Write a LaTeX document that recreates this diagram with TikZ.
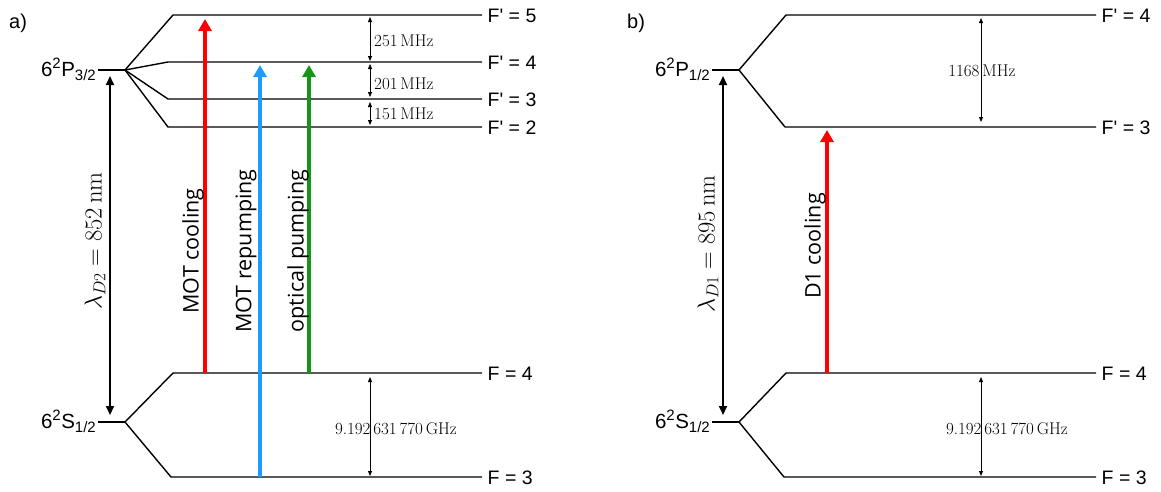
\RequirePackage{fix-cm}
\documentclass[tikz,border=0pt]{standalone}
\usepackage{fontspec}
\newfontfamily\levelfont{Liberation Sans}
\newfontfamily\beamfont{Open Sans}
\usetikzlibrary{arrows.meta,positioning}
\definecolor{cred}{HTML}{FF0000}
\definecolor{cblue}{HTML}{1E9BFF}
\definecolor{cgreen}{HTML}{159615}

% term symbol n^2 L_J
\newcommand{\term}[4]{#1\raisebox{7.5pt}{\fontsize{15}{15}\selectfont #2}\kern0.5pt#3\raisebox{-4.5pt}{\fontsize{15}{15}\selectfont #4}}

\tikzset{
 elevel/.style={line width=1.4pt},
 lvl/.style={anchor=base west, inner sep=0pt, xshift=5pt, yshift=-7pt, font=\levelfont\fontsize{19.5}{22}\selectfont},
 statelab/.style={anchor=base east, inner sep=0pt, font=\levelfont\fontsize{20.5}{22}\selectfont},
 panel/.style={anchor=base west, inner sep=0pt, font=\levelfont\fontsize{20}{22}\selectfont},
 beam/.style={line width=3.7pt, -{Triangle[length=12pt,width=13pt]}},
 beamlab/.style={rotate=90, inner sep=0pt, font=\beamfont\fontsize{21.5}{24}\selectfont},
 trans/.style={line width=2pt, {Triangle[length=9pt,width=8pt]}-{Triangle[length=9pt,width=8pt]}},
 wavelab/.style={rotate=90, inner sep=0pt, font=\fontsize{24.5}{28}\selectfont},
 hf/.style={line width=0.8pt, {Triangle[length=5pt,width=4pt]}-{Triangle[length=5pt,width=4pt]}},
 hflab/.style={inner sep=0pt, font=\fontsize{17}{19}\selectfont},
}

\begin{document}
\begin{tikzpicture}[x=1pt,y=-1pt]
 \useasboundingbox (0,0) rectangle (1161,491);

 % a) D2 line
 \node[panel] (pa) at (9,28) {a)};
 \coordinate (aP) at (125,70);
 \coordinate (aS) at (125,422);
 \coordinate (aR) at (482,0);
 \coordinate (a5) at (173,15);
 \coordinate (a4) at (168,62);
 \coordinate (a3) at (168,99);
 \coordinate (a2) at (168,127);
 \coordinate (aF4) at (173,373);
 \coordinate (aF3) at (171,477);
 \node[statelab] (aPlab) at (96,76) {\term{6}{2}{P}{3/2}};
 \node[statelab] (aSlab) at (96,428) {\term{6}{2}{S}{1/2}};
 \draw[elevel] (aP) -- ++(-27,0);
 \draw[elevel] (aS) -- ++(-27,0);
 \draw[elevel] (aP) -- (a5) -- (a5 -| aR) node[lvl] (a5lab) {F\textquotesingle{} = 5};
 \draw[elevel] (aP) -- (a4) -- (a4 -| aR) node[lvl] (a4lab) {F\textquotesingle{} = 4};
 \draw[elevel] (aP) -- (a3) -- (a3 -| aR) node[lvl] (a3lab) {F\textquotesingle{} = 3};
 \draw[elevel] (aP) -- (a2) -- (a2 -| aR) node[lvl] (a2lab) {F\textquotesingle{} = 2};
 \draw[elevel] (aS) -- (aF4) -- (aF4 -| aR) node[lvl] (aF4lab) {F = 4};
 \draw[elevel] (aS) -- (aF3) -- (aF3 -| aR) node[lvl] (aF3lab) {F = 3};

 % hyperfine splittings
 \coordinate (aHF) at (370,0);
 \draw[hf] ([yshift=-2pt]a5 -| aHF) -- ([yshift=1pt]a4 -| aHF);
 \draw[hf] ([yshift=-2pt]a4 -| aHF) -- ([yshift=2pt]a3 -| aHF);
 \draw[hf] ([yshift=-3pt]a3 -| aHF) -- ([yshift=2pt]a2 -| aHF);
 \draw[hf] ([yshift=-4pt]aF4 -| aHF) -- ([yshift=1pt]aF3 -| aHF);
 \node[hflab, anchor=base west] (a251) at (374,46) {251\,MHz};
 \node[hflab, anchor=base west] (a201) at (374,89) {201\,MHz};
 \node[hflab, anchor=base west] (a151) at (374,119) {151\,MHz};
 \node[hflab, anchor=base] (aGHz) at (395.9,434) {9.192\,631\,770\,GHz};

 % D2 transition
 \coordinate (aD2) at (110,0);
 \draw[trans] ([yshift=-6pt]aP -| aD2) -- ([yshift=7pt]aS -| aD2);
 \node[wavelab] (aD2lab) at (95,241) {$\lambda_{D2} = 852\,\mathrm{nm}$};

 % lasers
 \coordinate (cool) at (205,0);
 \coordinate (repump) at (260,0);
 \coordinate (optpump) at (309,0);
 \draw[beam, cred] (aF4 -| cool) -- ([yshift=-4pt]a5 -| cool);
 \draw[beam, cblue] (aF3 -| repump) -- ([yshift=-3pt]a4 -| repump);
 \draw[beam, cgreen] (aF4 -| optpump) -- ([yshift=-3pt]a4 -| optpump);
 \node[beamlab] (coollab) at (193,251) {MOT cooling};
 \node[beamlab] (repumplab) at (246,251) {MOT repumping};
 \node[beamlab] (optpumplab) at (298,251) {optical pumping};

 % b) D1 line
 \node[panel] (pb) at (627,28) {b)};
 \coordinate (bP) at (739,70);
 \coordinate (bS) at (739,422);
 \coordinate (bR) at (1096,0);
 \coordinate (b4) at (786,15);
 \coordinate (b3) at (785,127);
 \coordinate (bF4) at (786,373);
 \coordinate (bF3) at (784,477);
 \node[statelab] (bPlab) at (710,76) {\term{6}{2}{P}{1/2}};
 \node[statelab] (bSlab) at (710,428) {\term{6}{2}{S}{1/2}};
 \draw[elevel] (bP) -- ++(-27,0);
 \draw[elevel] (bS) -- ++(-27,0);
 \draw[elevel] (bP) -- (b4) -- (b4 -| bR) node[lvl] (b4lab) {F\textquotesingle{} = 4};
 \draw[elevel] (bP) -- (b3) -- (b3 -| bR) node[lvl] (b3lab) {F\textquotesingle{} = 3};
 \draw[elevel] (bS) -- (bF4) -- (bF4 -| bR) node[lvl] (bF4lab) {F = 4};
 \draw[elevel] (bS) -- (bF3) -- (bF3 -| bR) node[lvl] (bF3lab) {F = 3};

 \coordinate (bHF) at (981,0);
 \draw[hf] ([yshift=-3pt]b4 -| bHF) -- ([yshift=5pt]b3 -| bHF);
 \draw[hf] ([yshift=-4pt]bF4 -| bHF) -- ([yshift=1pt]bF3 -| bHF);
 \node[hflab, anchor=base] (b1168) at (981.9,76) {1168\,MHz};
 \node[hflab, anchor=base] (bGHz) at (1006.9,434) {9.192\,631\,770\,GHz};

 \coordinate (bD1) at (723,0);
 \draw[trans] ([yshift=-6pt]bP -| bD1) -- ([yshift=7pt]bS -| bD1);
 \node[wavelab] (bD1lab) at (708,244) {$\lambda_{D1} = 895\,\mathrm{nm}$};

 \coordinate (d1cool) at (827,0);
 \draw[beam, cred] (bF4 -| d1cool) -- ([yshift=-3pt]b3 -| d1cool);
 \node[beamlab] (d1coollab) at (815,246) {D1 cooling};
\end{tikzpicture}
\end{document}
